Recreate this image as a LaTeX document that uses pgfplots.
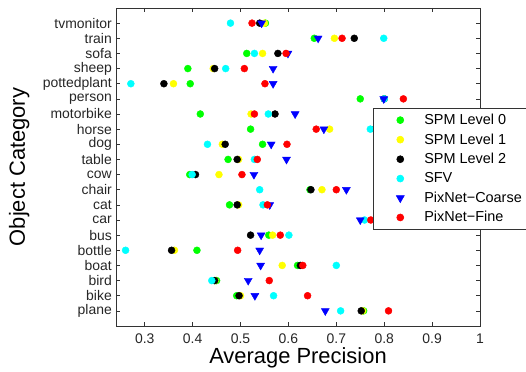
\documentclass[border=0pt]{standalone}
\usepackage{pgfplots}
\pgfplotsset{compat=1.18}
\usepackage{fontspec}
\setmainfont{Liberation Sans}
\definecolor{cgreen}{rgb}{0,1,0}
\definecolor{cyellow}{rgb}{1,1,0}
\definecolor{ccyan}{rgb}{0,1,1}
\definecolor{cblue}{rgb}{0,0,1}
\definecolor{cred}{rgb}{1,0,0}
\begin{document}
\begin{tikzpicture}
\begin{axis}[
  scale only axis,
  width=364bp, height=318bp,
  xmin=0.24, xmax=1, ymin=0, ymax=21,
  xtick={0.3,0.4,0.5,0.6,0.7,0.8,0.9,1},
  xticklabels={0.3,0.4,0.5,0.6,0.7,0.8,0.9,1},
  ytick={1,...,20},
  yticklabels={plane,bike,bird,boat,bottle,bus,car,cat,chair,cow,table,dog,horse,motorbike,person,pottedplant,sheep,sofa,train,tvmonitor},
  tick align=inside,
  major tick length=4bp,
  minor tick num=0,
  axis line style={line width=0.8bp, black!80},
  every tick/.style={line width=0.6bp, black!80},
  /pgf/number format/assume math mode=true,
  tick label style={font=\fontsize{14}{16}\selectfont, text=black!85},
  yticklabel style={inner sep=0pt, xshift=-4bp},
  xticklabel style={inner sep=0pt, anchor=north, yshift=-8bp},
  xlabel={Average Precision},
  ylabel={Object Category},
  label style={font=\fontsize{22}{24}\selectfont},
  xlabel style={at={(axis description cs:0.5,-0.1164)}, anchor=base},
  ylabel style={at={(axis description cs:-0.25,0.5)}, anchor=base, rotate=0},
  legend style={at={(axis description cs:0.706,0.686)}, anchor=north west,
    font=\fontsize{14.5}{16}\selectfont, draw=black!80, line width=0.6bp,
    inner xsep=8bp, inner ysep=4bp, row sep=3.6bp,
    cells={anchor=west}},
  every axis plot/.append style={only marks,
    legend image code/.code={\path[draw=none,fill=none] (0bp,0bp) -- (41bp,0bp);
      \draw plot[only marks] coordinates {(19bp,0bp)};}},
]
\addplot[mark=*, mark size=3.5bp, color=cgreen] coordinates {
(0.757,1)(0.492,2)(0.450,3)(0.619,4)(0.409,5)(0.559,6)(0.790,7)(0.477,8)(0.645,9)(0.394,10)
(0.474,11)(0.546,12)(0.521,13)(0.416,14)(0.750,15)(0.395,16)(0.390,17)(0.513,18)(0.654,19)(0.552,20)};
\addlegendentry{SPM Level 0}
\addplot[mark=*, mark size=3.5bp, color=cyellow] coordinates {
(0.755,1)(0.500,2)(0.447,3)(0.587,4)(0.362,5)(0.567,6)(0.800,7)(0.496,8)(0.670,9)(0.455,10)
(0.496,11)(0.462,12)(0.686,13)(0.522,14)(0.800,15)(0.360,16)(0.443,17)(0.546,18)(0.696,19)(0.550,20)};
\addlegendentry{SPM Level 1}
\addplot[mark=*, mark size=3.5bp, color=black] coordinates {
(0.752,1)(0.497,2)(0.446,3)(0.625,4)(0.356,5)(0.521,6)(0.800,7)(0.493,8)(0.647,9)(0.406,10)
(0.493,11)(0.468,12)(0.780,13)(0.572,14)(0.800,15)(0.340,16)(0.446,17)(0.578,18)(0.7375,19)(0.540,20)};
\addlegendentry{SPM Level 2}
\addplot[mark=*, mark size=3.5bp, color=ccyan] coordinates {
(0.709,1)(0.569,2)(0.440,3)(0.700,4)(0.260,5)(0.601,6)(0.759,7)(0.547,8)(0.540,9)(0.399,10)
(0.529,11)(0.431,12)(0.771,13)(0.558,14)(0.800,15)(0.271,16)(0.469,17)(0.529,18)(0.799,19)(0.479,20)};
\addlegendentry{SFV}
\addplot[mark=triangle*, mark size=4.6bp, mark options={rotate=180}, color=cblue] coordinates {
(0.677,1)(0.530,2)(0.516,3)(0.542,4)(0.540,5)(0.543,6)(0.750,7)(0.561,8)(0.721,9)(0.528,10)
(0.596,11)(0.564,12)(0.674,13)(0.614,14)(0.799,15)(0.568,16)(0.568,17)(0.599,18)(0.662,19)(0.544,20)};
\addlegendentry{PixNet−Coarse}
\addplot[mark=*, mark size=3.5bp, color=cred] coordinates {
(0.809,1)(0.640,2)(0.560,3)(0.630,4)(0.494,5)(0.583,6)(0.772,7)(0.556,8)(0.700,9)(0.503,10)
(0.535,11)(0.597,12)(0.658,13)(0.529,14)(0.840,15)(0.551,16)(0.508,17)(0.595,18)(0.712,19)(0.524,20)};
\addlegendentry{PixNet−Fine}
\end{axis}
\pgfresetboundingbox
\path (current axis.south west) ++(-116bp,-46bp) coordinate (bbsw);
\path (current axis.north east) ++(46bp,8bp) coordinate (bbne);
\useasboundingbox (bbsw) rectangle (bbne);
\end{tikzpicture}
\end{document}
